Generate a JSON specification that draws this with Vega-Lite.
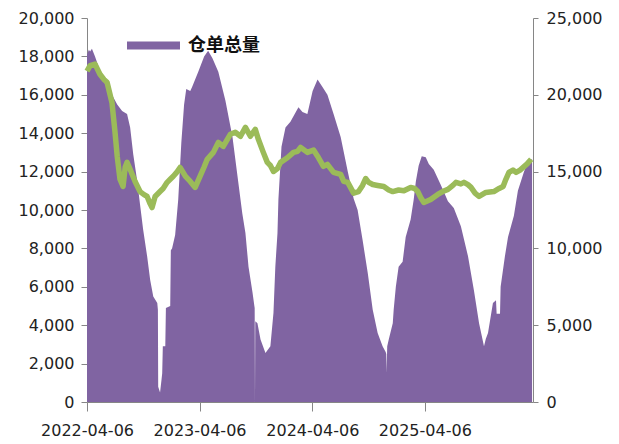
{
  "$schema": "https://vega.github.io/schema/vega-lite/v6.json",
  "width": 446,
  "height": 384,
  "autosize": {"type": "none"},
  "padding": {"left": 87, "top": 18, "right": 86, "bottom": 42},
  "background": "white",
  "config": {
    "view": {"stroke": null},
    "font": "DejaVu Sans",
    "axis": {
      "grid": false,
      "title": null,
      "domainColor": "#868686",
      "tickColor": "#868686",
      "labelColor": "#222222",
      "labelFont": "DejaVu Sans",
      "labelFontSize": 16
    }
  },
  "datasets": {
    "stock": [
      {"date": "2022-04-06", "qty": 18100},
      {"date": "2022-04-12", "qty": 18350},
      {"date": "2022-04-16", "qty": 18250},
      {"date": "2022-04-22", "qty": 18400},
      {"date": "2022-05-02", "qty": 18000},
      {"date": "2022-05-18", "qty": 17250},
      {"date": "2022-06-04", "qty": 16550},
      {"date": "2022-06-26", "qty": 16000},
      {"date": "2022-07-13", "qty": 15500},
      {"date": "2022-07-29", "qty": 15150},
      {"date": "2022-08-14", "qty": 15000},
      {"date": "2022-08-24", "qty": 14300},
      {"date": "2022-09-03", "qty": 12900},
      {"date": "2022-09-16", "qty": 11500},
      {"date": "2022-09-25", "qty": 10300},
      {"date": "2022-10-05", "qty": 9000},
      {"date": "2022-10-18", "qty": 7600},
      {"date": "2022-10-28", "qty": 6350},
      {"date": "2022-11-07", "qty": 5500},
      {"date": "2022-11-20", "qty": 5150},
      {"date": "2022-11-22", "qty": 4800},
      {"date": "2022-11-23", "qty": 800},
      {"date": "2022-11-29", "qty": 500},
      {"date": "2022-12-04", "qty": 1200},
      {"date": "2022-12-06", "qty": 1500},
      {"date": "2022-12-08", "qty": 2900},
      {"date": "2022-12-16", "qty": 2900},
      {"date": "2022-12-18", "qty": 4900},
      {"date": "2023-01-01", "qty": 5000},
      {"date": "2023-01-03", "qty": 7900},
      {"date": "2023-01-07", "qty": 8000},
      {"date": "2023-01-17", "qty": 8700},
      {"date": "2023-01-27", "qty": 10550},
      {"date": "2023-02-06", "qty": 13500},
      {"date": "2023-02-15", "qty": 15500},
      {"date": "2023-02-22", "qty": 16300},
      {"date": "2023-03-07", "qty": 16200},
      {"date": "2023-03-13", "qty": 16400},
      {"date": "2023-04-02", "qty": 17200},
      {"date": "2023-04-21", "qty": 18000},
      {"date": "2023-05-04", "qty": 18300},
      {"date": "2023-05-18", "qty": 17900},
      {"date": "2023-06-06", "qty": 17200},
      {"date": "2023-06-29", "qty": 15700},
      {"date": "2023-07-22", "qty": 13800},
      {"date": "2023-08-07", "qty": 11800},
      {"date": "2023-08-23", "qty": 9800},
      {"date": "2023-09-02", "qty": 8800},
      {"date": "2023-09-12", "qty": 7050},
      {"date": "2023-09-25", "qty": 5700},
      {"date": "2023-10-01", "qty": 5000},
      {"date": "2023-10-02", "qty": 4900},
      {"date": "2023-10-03", "qty": 0},
      {"date": "2023-10-04", "qty": 4200},
      {"date": "2023-10-11", "qty": 4100},
      {"date": "2023-10-21", "qty": 3250},
      {"date": "2023-11-06", "qty": 2550},
      {"date": "2023-11-22", "qty": 2900},
      {"date": "2023-12-02", "qty": 4650},
      {"date": "2023-12-08", "qty": 7050},
      {"date": "2023-12-15", "qty": 8800},
      {"date": "2023-12-18", "qty": 10550},
      {"date": "2023-12-28", "qty": 13300},
      {"date": "2024-01-10", "qty": 14300},
      {"date": "2024-01-26", "qty": 14600},
      {"date": "2024-02-21", "qty": 15350},
      {"date": "2024-03-05", "qty": 15100},
      {"date": "2024-03-21", "qty": 15000},
      {"date": "2024-04-07", "qty": 16200},
      {"date": "2024-04-23", "qty": 16800},
      {"date": "2024-05-09", "qty": 16400},
      {"date": "2024-05-25", "qty": 16000},
      {"date": "2024-06-14", "qty": 15000},
      {"date": "2024-07-07", "qty": 13800},
      {"date": "2024-07-30", "qty": 12000},
      {"date": "2024-08-18", "qty": 10600},
      {"date": "2024-08-31", "qty": 10000},
      {"date": "2024-09-16", "qty": 8450},
      {"date": "2024-10-03", "qty": 6700},
      {"date": "2024-10-19", "qty": 4800},
      {"date": "2024-11-04", "qty": 3600},
      {"date": "2024-11-20", "qty": 2900},
      {"date": "2024-11-30", "qty": 2600},
      {"date": "2024-12-02", "qty": 2500},
      {"date": "2024-12-03", "qty": 1500},
      {"date": "2024-12-05", "qty": 2900},
      {"date": "2024-12-10", "qty": 3250},
      {"date": "2024-12-23", "qty": 4100},
      {"date": "2024-12-26", "qty": 4800},
      {"date": "2025-01-02", "qty": 6000},
      {"date": "2025-01-11", "qty": 7050},
      {"date": "2025-01-24", "qty": 7300},
      {"date": "2025-02-03", "qty": 8600},
      {"date": "2025-02-19", "qty": 9500},
      {"date": "2025-03-01", "qty": 10550},
      {"date": "2025-03-08", "qty": 11500},
      {"date": "2025-03-17", "qty": 12300},
      {"date": "2025-03-27", "qty": 12800},
      {"date": "2025-04-09", "qty": 12750},
      {"date": "2025-04-19", "qty": 12400},
      {"date": "2025-05-05", "qty": 12100},
      {"date": "2025-05-28", "qty": 11300},
      {"date": "2025-06-20", "qty": 10450},
      {"date": "2025-07-09", "qty": 10100},
      {"date": "2025-08-01", "qty": 9150},
      {"date": "2025-08-24", "qty": 7600},
      {"date": "2025-09-12", "qty": 5850},
      {"date": "2025-09-29", "qty": 4100},
      {"date": "2025-10-15", "qty": 2900},
      {"date": "2025-10-21", "qty": 3300},
      {"date": "2025-10-28", "qty": 3600},
      {"date": "2025-11-13", "qty": 5150},
      {"date": "2025-11-23", "qty": 5300},
      {"date": "2025-11-25", "qty": 4600},
      {"date": "2025-12-06", "qty": 4600},
      {"date": "2025-12-08", "qty": 6000},
      {"date": "2025-12-22", "qty": 7600},
      {"date": "2026-01-01", "qty": 8600},
      {"date": "2026-01-20", "qty": 9700},
      {"date": "2026-02-02", "qty": 11000},
      {"date": "2026-02-22", "qty": 12000},
      {"date": "2026-03-07", "qty": 12500},
      {"date": "2026-03-20", "qty": 12650}
    ],
    "price": [
      {"date": "2022-04-06", "price": 21540},
      {"date": "2022-04-16", "price": 21900},
      {"date": "2022-05-02", "price": 22000},
      {"date": "2022-05-18", "price": 21340},
      {"date": "2022-05-31", "price": 21000},
      {"date": "2022-06-10", "price": 20820},
      {"date": "2022-06-26", "price": 19500},
      {"date": "2022-07-06", "price": 17550},
      {"date": "2022-07-13", "price": 16000},
      {"date": "2022-07-22", "price": 14500},
      {"date": "2022-08-01", "price": 14030},
      {"date": "2022-08-08", "price": 15300},
      {"date": "2022-08-14", "price": 15600},
      {"date": "2022-08-24", "price": 15140},
      {"date": "2022-09-09", "price": 14360},
      {"date": "2022-09-25", "price": 13700},
      {"date": "2022-10-08", "price": 13500},
      {"date": "2022-10-18", "price": 13380},
      {"date": "2022-10-28", "price": 12900},
      {"date": "2022-11-03", "price": 12660},
      {"date": "2022-11-13", "price": 13380},
      {"date": "2022-11-29", "price": 13700},
      {"date": "2022-12-09", "price": 13900},
      {"date": "2022-12-22", "price": 14300},
      {"date": "2023-01-01", "price": 14500},
      {"date": "2023-01-11", "price": 14700},
      {"date": "2023-01-24", "price": 15000},
      {"date": "2023-02-02", "price": 15270},
      {"date": "2023-02-19", "price": 14700},
      {"date": "2023-03-07", "price": 14360},
      {"date": "2023-03-23", "price": 13970},
      {"date": "2023-04-08", "price": 14700},
      {"date": "2023-04-21", "price": 15300},
      {"date": "2023-05-01", "price": 15800},
      {"date": "2023-05-21", "price": 16250},
      {"date": "2023-06-06", "price": 16900},
      {"date": "2023-06-22", "price": 16640},
      {"date": "2023-07-15", "price": 17430},
      {"date": "2023-07-31", "price": 17560},
      {"date": "2023-08-17", "price": 17300},
      {"date": "2023-09-02", "price": 17880},
      {"date": "2023-09-18", "price": 17300},
      {"date": "2023-10-04", "price": 17750},
      {"date": "2023-10-14", "price": 17100},
      {"date": "2023-10-30", "price": 16250},
      {"date": "2023-11-12", "price": 15600},
      {"date": "2023-11-22", "price": 15400},
      {"date": "2023-12-02", "price": 15010},
      {"date": "2023-12-15", "price": 15200},
      {"date": "2023-12-25", "price": 15600},
      {"date": "2024-01-16", "price": 15900},
      {"date": "2024-02-05", "price": 16250},
      {"date": "2024-02-18", "price": 16320},
      {"date": "2024-02-28", "price": 16580},
      {"date": "2024-03-21", "price": 16250},
      {"date": "2024-04-10", "price": 16400},
      {"date": "2024-04-23", "price": 16000},
      {"date": "2024-05-12", "price": 15340},
      {"date": "2024-05-25", "price": 15470},
      {"date": "2024-06-14", "price": 14950},
      {"date": "2024-07-07", "price": 14820},
      {"date": "2024-07-17", "price": 14360},
      {"date": "2024-07-30", "price": 14300},
      {"date": "2024-08-18", "price": 13600},
      {"date": "2024-09-03", "price": 13700},
      {"date": "2024-09-16", "price": 14100},
      {"date": "2024-09-26", "price": 14550},
      {"date": "2024-10-06", "price": 14300},
      {"date": "2024-10-19", "price": 14160},
      {"date": "2024-11-04", "price": 14100},
      {"date": "2024-11-24", "price": 14030},
      {"date": "2024-12-10", "price": 13800},
      {"date": "2024-12-23", "price": 13700},
      {"date": "2025-01-11", "price": 13800},
      {"date": "2025-01-28", "price": 13750},
      {"date": "2025-02-19", "price": 13970},
      {"date": "2025-03-04", "price": 13900},
      {"date": "2025-03-14", "price": 13700},
      {"date": "2025-03-24", "price": 13300},
      {"date": "2025-04-03", "price": 12990},
      {"date": "2025-04-16", "price": 13100},
      {"date": "2025-04-25", "price": 13180},
      {"date": "2025-05-18", "price": 13510},
      {"date": "2025-06-03", "price": 13700},
      {"date": "2025-06-20", "price": 13840},
      {"date": "2025-07-06", "price": 14100},
      {"date": "2025-07-16", "price": 14300},
      {"date": "2025-08-01", "price": 14200},
      {"date": "2025-08-11", "price": 14300},
      {"date": "2025-08-24", "price": 14150},
      {"date": "2025-09-03", "price": 13970},
      {"date": "2025-09-16", "price": 13600},
      {"date": "2025-09-29", "price": 13380},
      {"date": "2025-10-21", "price": 13640},
      {"date": "2025-11-16", "price": 13700},
      {"date": "2025-12-03", "price": 13900},
      {"date": "2025-12-16", "price": 14030},
      {"date": "2025-12-25", "price": 14500},
      {"date": "2026-01-04", "price": 14950},
      {"date": "2026-01-17", "price": 15100},
      {"date": "2026-01-27", "price": 14950},
      {"date": "2026-02-09", "price": 15100},
      {"date": "2026-02-19", "price": 15270},
      {"date": "2026-03-04", "price": 15500},
      {"date": "2026-03-17", "price": 15800}
    ]
  },
  "encoding": {
    "x": {
      "field": "date",
      "type": "temporal",
      "scale": {
        "type": "utc",
        "domain": [
          {"year": 2022, "month": 4, "date": 6, "utc": true},
          {"year": 2026, "month": 3, "date": 23, "utc": true}
        ]
      },
      "axis": {
        "orient": "bottom",
        "values": [
          {"year": 2022, "month": 4, "date": 6, "utc": true},
          {"year": 2023, "month": 4, "date": 6, "utc": true},
          {"year": 2024, "month": 4, "date": 6, "utc": true},
          {"year": 2025, "month": 4, "date": 6, "utc": true}
        ],
        "labelExpr": "utcFormat(datum.value, '%Y-%m-%d')",
        "tickSize": 9,
        "labelPadding": 11,
        "labelFlush": false,
        "labelOverlap": false
      }
    }
  },
  "layer": [
    {
      "data": {"name": "stock"},
      "mark": {"type": "area", "interpolate": "linear"},
      "encoding": {
        "y": {
          "field": "qty",
          "type": "quantitative",
          "scale": {"domain": [0, 20000], "nice": false},
          "axis": {
            "orient": "left",
            "values": [0, 2000, 4000, 6000, 8000, 10000, 12000, 14000, 16000, 18000, 20000],
            "format": ",d",
            "tickSize": 6,
            "labelPadding": 7
          }
        },
        "color": {
          "datum": "仓单总量",
          "type": "nominal",
          "scale": {"range": ["#8064A2"]},
          "legend": {
            "orient": "none",
            "legendX": 40,
            "legendY": 1,
            "title": null,
            "padding": 0,
            "symbolType": "M-1,-0.15H1V0.15H-1Z",
            "symbolSize": 2809,
            "symbolStrokeWidth": 0,
            "symbolOpacity": 1,
            "labelFont": "Noto Sans CJK SC",
            "labelFontSize": 18,
            "labelFontWeight": "bold",
            "labelColor": "#111111",
            "labelOffset": 8
          }
        }
      }
    },
    {
      "data": {"name": "price"},
      "mark": {"type": "line", "color": "#9BBB59", "strokeWidth": 5.5, "strokeJoin": "round"},
      "encoding": {
        "y": {
          "field": "price",
          "type": "quantitative",
          "scale": {"domain": [0, 25000], "nice": false},
          "axis": {
            "orient": "right",
            "values": [0, 5000, 10000, 15000, 20000, 25000],
            "format": ",d",
            "tickSize": 5,
            "labelPadding": 8
          }
        }
      }
    }
  ],
  "resolve": {"scale": {"y": "independent"}}
}
